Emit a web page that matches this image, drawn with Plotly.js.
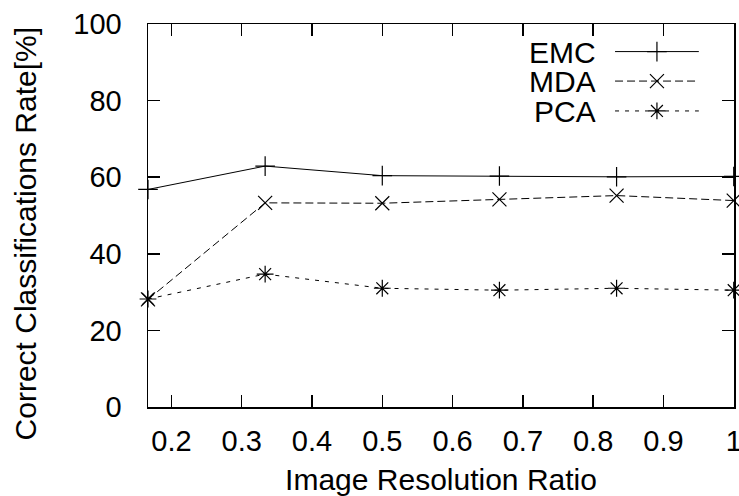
<!DOCTYPE html>
<html>
<head>
<meta charset="utf-8">
<script src="https://cdn.plot.ly/plotly-3.0.1.min.js"></script>
<style>html,body{margin:0;padding:0;background:#fff;}#chart{width:739px;height:496px;}</style>
</head>
<body>
<div id="chart"></div>
<script>
// Data
const ratios = [1/6, 1/3, 1/2, 2/3, 5/6, 1];
const emc = [56.8, 62.9, 60.4, 60.3, 60.1, 60.2];
const mda = [28.1, 53.3, 53.2, 54.2, 55.2, 53.9];
const pca = [28.2, 34.7, 31.0, 30.5, 31.0, 30.5];
const seriesNames = ["EMC", "MDA", "PCA"];
const xTickVals = [0.2, 0.3, 0.4, 0.5, 0.6, 0.7, 0.8, 0.9, 1.0];
const xTickText = ["0.2", "0.3", "0.4", "0.5", "0.6", "0.7", "0.8", "0.9", "1"];
const yTickVals = [0, 20, 40, 60, 80, 100];
const yTickText = ["0", "20", "40", "60", "80", "100"];
const xTitle = "Image Resolution Ratio";
const yTitle = "Correct Classifications Rate[%]";

const FONT = "Liberation Sans, Arial, Helvetica, sans-serif";
const styles = [
  {dash: "solid", symbol: "cross-thin-open"},
  {dash: "8px,4px", symbol: "x-thin-open"},
  {dash: "4px,6px", symbol: "asterisk-open"}
];
const values = [emc, mda, pca];

const traces = values.map((v, i) => ({
  x: ratios, y: v, type: "scatter", mode: "lines+markers",
  name: seriesNames[i], showlegend: false, cliponaxis: false,
  line: {color: "#000", width: 1, dash: styles[i].dash},
  marker: {symbol: styles[i].symbol, size: 14, color: "#000", line: {color: "#000", width: 1.2}}
}));

// custom gnuplot-style legend (text left, sample right) on an overlay axis in [0,1]
const legX0 = 0.797, legX1 = 0.94, legTextX = 0.766;
const legRows = [0.928, 0.851, 0.773];
seriesNames.forEach((n, i) => {
  traces.push({
    x: [legX0, legX1], y: [legRows[i], legRows[i]], xaxis: "x2", yaxis: "y2",
    type: "scatter", mode: "lines", showlegend: false, hoverinfo: "skip",
    line: {color: "#000", width: 1, dash: styles[i].dash}
  });
  traces.push({
    x: [(legX0 + legX1) / 2], y: [legRows[i]], xaxis: "x2", yaxis: "y2",
    type: "scatter", mode: "markers", showlegend: false, hoverinfo: "skip",
    marker: {symbol: styles[i].symbol, size: 14, color: "#000", line: {color: "#000", width: 1.2}}
  });
});

const annotations = seriesNames.map((n, i) => ({
  xref: "x2", yref: "y2", x: legTextX, y: legRows[i], text: n, showarrow: false,
  xanchor: "right", yanchor: "middle", height: 26, valign: "middle", borderpad: 0,
  font: {family: FONT, size: 30, color: "#000"}
}));
// y-axis title (placed like gnuplot, slightly below plot centre)
annotations.push({
  xref: "paper", yref: "paper", x: -0.209, y: 0.452, text: yTitle, showarrow: false,
  textangle: -90, xanchor: "center", yanchor: "middle",
  font: {family: FONT, size: 30, color: "#000"}
});

const layout = {
  width: 739, height: 496,
  margin: {l: 148, r: 5, t: 24, b: 89, pad: 0},
  paper_bgcolor: "#fff", plot_bgcolor: "#fff",
  font: {family: FONT, size: 29, color: "#000"},
  showlegend: false,
  xaxis: {
    range: [1/6, 1.0004], tickvals: xTickVals, ticktext: xTickText,
    ticks: "inside", ticklen: 12, tickwidth: 1.5, tickcolor: "#000",
    showline: true, linewidth: 1.5, linecolor: "#000", mirror: "ticks",
    showgrid: false, zeroline: false, ticklabelstandoff: 8,
    ticklabeloverflow: "allow",
    tickfont: {family: FONT, size: 29, color: "#000"},
    title: {text: xTitle, font: {family: FONT, size: 30, color: "#000"}, standoff: 16},
    automargin: false
  },
  yaxis: {
    range: [0, 100], tickvals: yTickVals, ticktext: yTickText,
    ticks: "inside", ticklen: 12, tickwidth: 1.5, tickcolor: "#000",
    showline: true, linewidth: 1.5, linecolor: "#000", mirror: "ticks",
    showgrid: false, zeroline: false, ticklabelstandoff: 19,
    ticklabeloverflow: "allow",
    tickfont: {family: FONT, size: 29, color: "#000"},
    automargin: false
  },
  xaxis2: {overlaying: "x", range: [0, 1], visible: false, fixedrange: true},
  yaxis2: {overlaying: "y", range: [0, 1], visible: false, fixedrange: true},
  annotations: annotations
};

Plotly.newPlot("chart", traces, layout, {displayModeBar: false, staticPlot: true});
</script>
</body>
</html>
